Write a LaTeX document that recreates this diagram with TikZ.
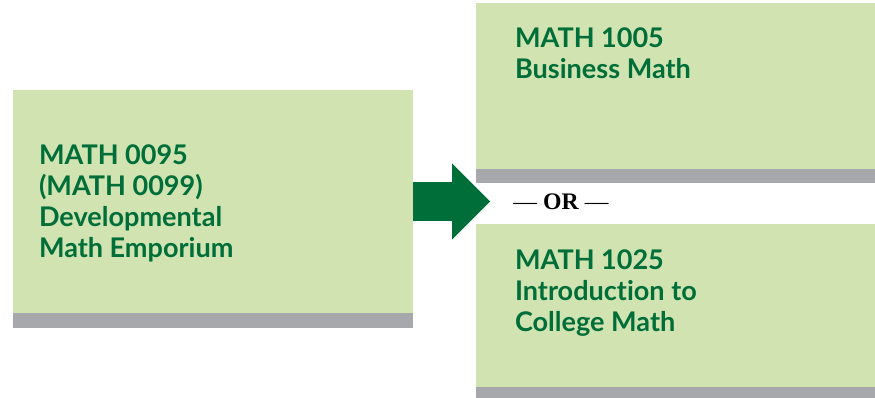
\documentclass[tikz,border=0pt]{standalone}
\usepackage{fontspec}
\setmainfont{Liberation Serif}
\newfontfamily\coursefont{Lato}[Ligatures=NoCommon]
\usetikzlibrary{arrows.meta,positioning}
\definecolor{boxgreen}{HTML}{D1E3B0}
\definecolor{darkgreen}{HTML}{006E39}
\definecolor{bargrey}{HTML}{A7A8AB}
\tikzset{
  course/.style={fill=boxgreen, inner sep=0pt, minimum width=8cm},
  coursetext/.style={anchor=north west, inner sep=0pt, align=left, text=darkgreen,
    font=\coursefont\bfseries\fontsize{15.4}{17.6}\selectfont},
  bar/.style={fill=bargrey}
}

\begin{document}
\begin{tikzpicture}[x=0.02cm,y=-0.02cm]
  \useasboundingbox (0,0) rectangle (875,398);

  \node[course, minimum height=4.46cm] (m0095) at (213,201.5) {};
  \node[course, minimum width=7.98cm, minimum height=3.32cm] (m1005) at (675.5,86) {};
  \node[course, minimum width=7.98cm, minimum height=3.26cm] (m1025) at (675.5,305.5) {};

  \fill[bar] (m0095.south west) rectangle ++(400,15);
  \fill[bar] (m1005.south west) rectangle ++(399,14);
  \fill[bar] (m1025.south west) rectangle ++(399,11);

  \node[coursetext, below right=1.1cm and 0.52cm of m0095.north west] (t0095)
    {MATH 0095\\(MATH 0099)\\Developmental\\Math Emporium};
  \node[coursetext, below right=0.5cm and 0.78cm of m1005.north west] (t1005)
    {MATH 1005\\Business Math};
  \node[coursetext, below right=0.52cm and 0.78cm of m1025.north west] (t1025)
    {MATH 1025\\Introduction to\\College Math};

  \coordinate (tip) at (490,201.5);
  \draw[darkgreen, line width=0.78cm,
    -{Triangle[length=0.76cm, width=1.52cm, line width=0pt]}] (m0095.east) -- (tip);

  \node[anchor=west, inner sep=0pt, font=\fontsize{13.5}{16}\selectfont, right=0.46cm of tip] (or)
    {--- \textbf{OR} ---};
\end{tikzpicture}
\end{document}
